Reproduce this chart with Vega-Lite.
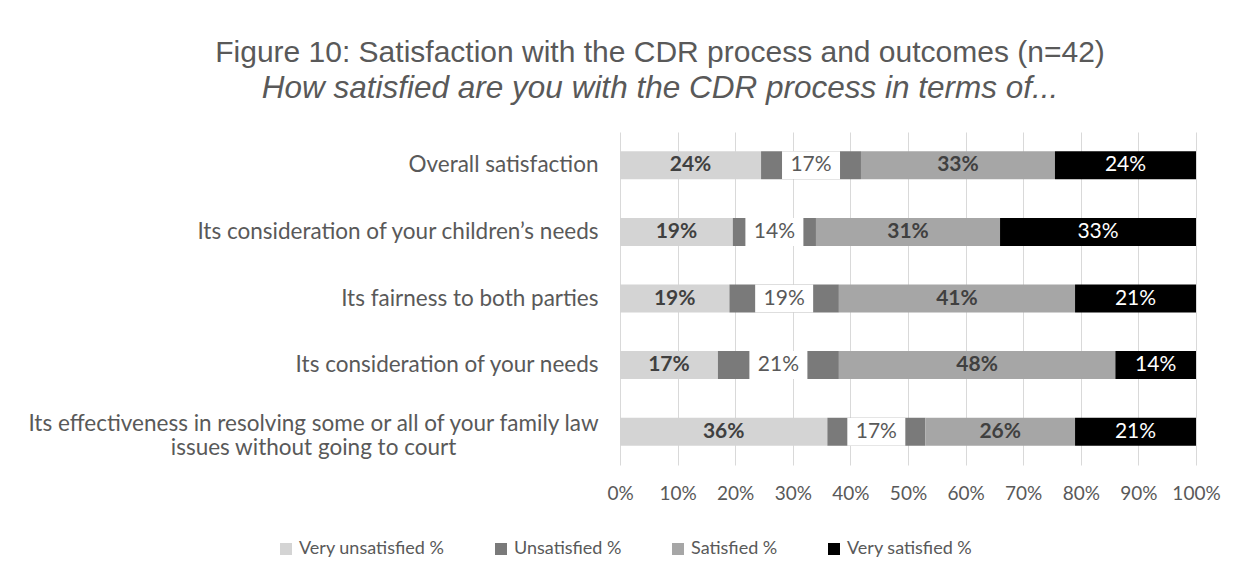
{
  "$schema": "https://vega.github.io/schema/vega-lite/v6.json",
  "width": 576,
  "height": 333,
  "autosize": {"type": "none"},
  "padding": {"left": 620, "top": 132, "right": 43, "bottom": 117},
  "background": "white",
  "config": {"view": {"stroke": null}},
  "title": {
    "text": "Figure 10: Satisfaction with the CDR process and outcomes (n=42)",
    "subtitle": "How satisfied are you with the CDR process in terms of...",
    "anchor": "middle",
    "frame": "group",
    "dx": -248,
    "font": "Liberation Sans",
    "fontSize": 30,
    "fontWeight": "normal",
    "color": "#595959",
    "subtitleFont": "Liberation Sans",
    "subtitleFontSize": 31.5,
    "subtitleFontStyle": "italic",
    "subtitleColor": "#595959",
    "subtitlePadding": 5,
    "offset": 28
  },
  "data": {
    "values": [
      {"question": "Overall satisfaction", "response": "Very unsatisfied %", "rank": 1, "value": 0.24},
      {"question": "Overall satisfaction", "response": "Unsatisfied %", "rank": 2, "value": 0.17},
      {"question": "Overall satisfaction", "response": "Satisfied %", "rank": 3, "value": 0.33},
      {"question": "Overall satisfaction", "response": "Very satisfied %", "rank": 4, "value": 0.24},
      {"question": "Its consideration of your children’s needs", "response": "Very unsatisfied %", "rank": 1, "value": 0.19},
      {"question": "Its consideration of your children’s needs", "response": "Unsatisfied %", "rank": 2, "value": 0.14},
      {"question": "Its consideration of your children’s needs", "response": "Satisfied %", "rank": 3, "value": 0.31},
      {"question": "Its consideration of your children’s needs", "response": "Very satisfied %", "rank": 4, "value": 0.33},
      {"question": "Its fairness to both parties", "response": "Very unsatisfied %", "rank": 1, "value": 0.19},
      {"question": "Its fairness to both parties", "response": "Unsatisfied %", "rank": 2, "value": 0.19},
      {"question": "Its fairness to both parties", "response": "Satisfied %", "rank": 3, "value": 0.41},
      {"question": "Its fairness to both parties", "response": "Very satisfied %", "rank": 4, "value": 0.21},
      {"question": "Its consideration of your needs", "response": "Very unsatisfied %", "rank": 1, "value": 0.17},
      {"question": "Its consideration of your needs", "response": "Unsatisfied %", "rank": 2, "value": 0.21},
      {"question": "Its consideration of your needs", "response": "Satisfied %", "rank": 3, "value": 0.48},
      {"question": "Its consideration of your needs", "response": "Very satisfied %", "rank": 4, "value": 0.14},
      {"question": "Its effectiveness in resolving some or all of your family law issues without going to court", "response": "Very unsatisfied %", "rank": 1, "value": 0.36},
      {"question": "Its effectiveness in resolving some or all of your family law issues without going to court", "response": "Unsatisfied %", "rank": 2, "value": 0.17},
      {"question": "Its effectiveness in resolving some or all of your family law issues without going to court", "response": "Satisfied %", "rank": 3, "value": 0.26},
      {"question": "Its effectiveness in resolving some or all of your family law issues without going to court", "response": "Very satisfied %", "rank": 4, "value": 0.21}
    ]
  },
  "transform": [
    {"stack": "value", "groupby": ["question"], "sort": [{"field": "rank", "order": "ascending"}], "as": ["v0", "v1"], "offset": "normalize"},
    {"calculate": "(datum.v0 + datum.v1) / 2", "as": "mid"}
  ],
  "encoding": {
    "y": {
      "field": "question",
      "type": "nominal",
      "sort": [
        "Overall satisfaction",
        "Its consideration of your children’s needs",
        "Its fairness to both parties",
        "Its consideration of your needs",
        "Its effectiveness in resolving some or all of your family law issues without going to court"
      ],
      "scale": {"paddingInner": 0.58, "paddingOuter": 0.29},
      "axis": {
        "title": null,
        "ticks": false,
        "domain": false,
        "labelPadding": {"condition": {"test": "length(datum.label) > 60 || isArray(datum.label)", "value": 307}, "value": 22},
        "labelAlign": {"condition": {"test": "length(datum.label) > 60 || isArray(datum.label)", "value": "center"}, "value": "right"},
        "labelOffset": {"condition": {"test": "length(datum.label) > 60 || isArray(datum.label)", "value": -8}, "value": 0},
        "labelFont": "Lato",
        "labelFontSize": 22.5,
        "labelColor": "#595959",
        "labelLimit": 700,
        "labelLineHeight": 24,
        "labelExpr": "datum.value == 'Its effectiveness in resolving some or all of your family law issues without going to court' ? ['Its effectiveness in resolving some or all of your family law', 'issues without going to court'] : datum.value"
      }
    }
  },
  "layer": [
    {
      "mark": {"type": "bar", "strokeWidth": 0},
      "encoding": {
        "x": {
          "field": "v0",
          "type": "quantitative",
          "scale": {"domain": [0, 1], "nice": false},
          "axis": {
            "title": null,
            "format": "%",
            "values": [0, 0.1, 0.2, 0.3, 0.4, 0.5, 0.6, 0.7, 0.8, 0.9, 1],
            "labelOverlap": false,
            "labelFlush": false,
            "ticks": false,
            "domain": false,
            "grid": true,
            "gridColor": "#d9d9d9",
            "gridWidth": 1,
            "labelPadding": 19,
            "labelFont": "Lato",
            "labelFontSize": 19,
            "labelColor": "#595959"
          }
        },
        "x2": {"field": "v1"},
        "color": {
          "field": "response",
          "type": "nominal",
          "scale": {
            "domain": ["Very unsatisfied %", "Unsatisfied %", "Satisfied %", "Very satisfied %"],
            "range": ["#d4d4d4", "#7a7a7a", "#a6a6a6", "#000000"]
          },
          "legend": {
            "title": null,
            "orient": "none",
            "legendX": -343,
            "legendY": 408,
            "direction": "horizontal",
            "symbolType": "square",
            "symbolSize": 144,
            "symbolStrokeWidth": 0,
            "labelFont": "Lato",
            "labelFontSize": 18,
            "labelColor": "#595959",
            "labelOffset": 4,
            "columnPadding": 47
          }
        }
      }
    },
    {
      "transform": [{"filter": "datum.rank == 2"}],
      "mark": {"type": "point", "shape": "M-1,-0.483H1V0.483H-1Z", "filled": true, "fill": "white", "opacity": 1, "size": 3364, "strokeWidth": 0},
      "encoding": {
        "x": {"field": "mid", "type": "quantitative"}
      }
    },
    {
      "transform": [{"filter": "datum.rank == 1 || datum.rank == 3"}],
      "mark": {"type": "text", "font": "Lato", "fontSize": 21, "fontWeight": "bold", "color": "#404040"},
      "encoding": {
        "x": {"field": "mid", "type": "quantitative"},
        "text": {"field": "value", "type": "quantitative", "format": ".0%"}
      }
    },
    {
      "transform": [{"filter": "datum.rank == 2"}],
      "mark": {"type": "text", "font": "Lato", "fontSize": 21, "color": "#595959"},
      "encoding": {
        "x": {"field": "mid", "type": "quantitative"},
        "text": {"field": "value", "type": "quantitative", "format": ".0%"}
      }
    },
    {
      "transform": [{"filter": "datum.rank == 4"}],
      "mark": {"type": "text", "font": "Lato", "fontSize": 21, "color": "white"},
      "encoding": {
        "x": {"field": "mid", "type": "quantitative"},
        "text": {"field": "value", "type": "quantitative", "format": ".0%"}
      }
    }
  ]
}
